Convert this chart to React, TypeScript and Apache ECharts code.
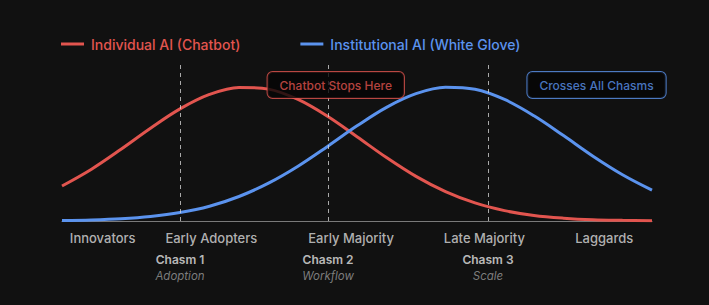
import React, { useEffect, useRef } from "react";
import * as echarts from "echarts";

const xValues = [0, 5, 10, 15, 20, 25, 30, 35, 40, 45, 50, 55, 60, 65, 70, 75, 80, 85, 90, 95, 100];
const individualAI = [22.3, 33.0, 45.7, 59.1, 71.4, 80.6, 85.1, 84.0, 77.4, 66.7, 53.7, 40.4, 28.4, 18.7, 11.5, 6.6, 3.5, 1.8, 0.8, 0.4, 0.15];
const institutionalAI = [0.29, 0.67, 1.42, 2.85, 5.35, 9.4, 15.6, 24.1, 34.9, 47.5, 60.6, 72.4, 81.1, 85.2, 83.9, 77.4, 67.0, 54.4, 41.3, 29.5, 19.7];

const stageNames = ["Innovators", "Early Adopters", "Early Majority", "Late Majority", "Laggards"];
const stagePositions = [6.9, 25.3, 49, 71.6, 91.9];

const chasmNames = ["Chasm 1", "Chasm 2", "Chasm 3"];
const chasmSubtitles = ["Adoption", "Workflow", "Scale"];
const chasmPositions = [20, 45.1, 72.2];

const annotationTexts = ["Chatbot Stops Here", "Crosses All Chasms"];
const annotationX = [46.4, 90.6];
const annotationY = [86.6, 86.6];

const RED = "#e2554f";
const BLUE = "#5b93ee";
const FONT = "Inter, 'Noto Sans', sans-serif";

export default function App() {
  const ref = useRef<HTMLDivElement>(null);
  useEffect(() => {
    const chart = echarts.init(ref.current!, null, { renderer: "svg" });
    const annColors = [RED, BLUE];
    chart.setOption({
      animation: false,
      backgroundColor: "#111111",
      textStyle: { fontFamily: FONT },
      grid: { left: 62, right: 57, top: 64, bottom: 84 },
      legend: {
        left: 56,
        top: 32,
        itemWidth: 23,
        itemHeight: 3,
        itemGap: 60,
        icon: "rect",
        data: [
          { name: "Individual AI (Chatbot)", textStyle: { color: RED } },
          { name: "Institutional AI (White Glove)", textStyle: { color: BLUE } },
        ],
        textStyle: { fontSize: 14, fontWeight: 500, fontFamily: FONT, padding: [0, 0, 0, 2] },
      },
      xAxis: {
        type: "value",
        min: 0,
        max: 100,
        axisLine: { show: true, lineStyle: { color: "#7a7a7a", width: 1 } },
        axisTick: { show: false },
        axisLabel: { show: false },
        splitLine: { show: false },
      },
      yAxis: {
        type: "value",
        min: 0,
        max: 100,
        show: false,
        splitLine: { show: false },
      },
      series: [
        {
          name: "Individual AI (Chatbot)",
          type: "line",
          smooth: 0.35,
          symbol: "none",
          color: RED,
          lineStyle: { color: RED, width: 3 },
          data: xValues.map((x, i) => [x, individualAI[i]]),
          z: 3,
          markLine: {
            silent: true,
            symbol: "none",
            label: { show: false },
            lineStyle: { color: "rgba(220,220,220,0.75)", type: [4, 4], width: 1 },
            data: chasmPositions.map((x) => [{ coord: [x, 0] }, { coord: [x, 100] }]),
          },
        },
        {
          name: "Institutional AI (White Glove)",
          type: "line",
          smooth: 0.35,
          symbol: "none",
          color: BLUE,
          lineStyle: { color: BLUE, width: 3 },
          data: xValues.map((x, i) => [x, institutionalAI[i]]),
          z: 3,
        },
        {
          type: "scatter",
          symbolSize: 0,
          silent: true,
          data: stageNames.map((n, i) => ({ name: n, value: [stagePositions[i], 0] })),
          label: {
            show: true,
            position: "inside",
            offset: [0, 17],
            formatter: "{b}",
            color: "#dcdcdc",
            fontSize: 13,
            fontWeight: 500,
            fontFamily: FONT,
          },
        },
        {
          type: "scatter",
          symbolSize: 0,
          silent: true,
          data: chasmNames.map((n, i) => ({ name: n, value: [chasmPositions[i], 0] })),
          label: {
            show: true,
            position: "inside",
            offset: [0, 38],
            formatter: "{b}",
            color: "#e6e6e6",
            fontSize: 12,
            fontWeight: 600,
            fontFamily: FONT,
          },
        },
        {
          type: "scatter",
          symbolSize: 0,
          silent: true,
          data: chasmSubtitles.map((n, i) => ({ name: n, value: [chasmPositions[i], 0] })),
          label: {
            show: true,
            position: "inside",
            offset: [0, 55],
            formatter: "{b}",
            color: "#9a9a9a",
            fontSize: 11.5,
            fontStyle: "italic",
            fontFamily: FONT,
          },
        },
        {
          type: "scatter",
          symbolSize: 0,
          silent: true,
          z: 10,
          data: annotationTexts.map((n, i) => ({
            name: n,
            value: [annotationX[i], annotationY[i]],
            label: {
              color: annColors[i],
              borderColor: annColors[i],
            },
          })),
          label: {
            show: true,
            position: "inside",
            formatter: "{b}",
            fontSize: 12,
            fontWeight: 500,
            fontFamily: FONT,
            backgroundColor: "#050505",
            borderWidth: 1,
            borderRadius: 5,
            padding: [6, 12, 6, 12],
            lineHeight: 14,
          },
        },
      ],
    });
    return () => chart.dispose();
  }, []);
  return <div ref={ref} style={{ position: "fixed", left: 0, top: 0, width: 709, height: 305 }} />;
}
